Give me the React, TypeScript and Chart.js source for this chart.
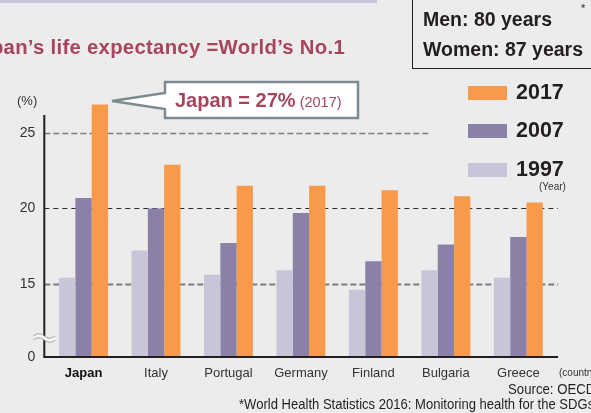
import React, { useEffect, useRef } from 'react';
import { Chart, registerables } from 'chart.js';

Chart.register(...registerables);

// ---- data ----
const categories = ['Japan', 'Italy', 'Portugal', 'Germany', 'Finland', 'Bulgaria', 'Greece'];
const years = ['1997', '2007', '2017'];
const values1997 = [15.4, 17.2, 15.6, 15.9, 14.6, 15.9, 15.4];
const values2007 = [20.7, 20.0, 17.7, 19.7, 16.5, 17.6, 18.1];
const values2017 = [26.9, 22.9, 21.5, 21.5, 21.2, 20.8, 20.4];
const yTickValues = [15, 20, 25];
// broken axis: the bottom of the axis is labelled "0"
const Y_MIN = 10.14;
const Y_MAX = 26.2;

// ---- style ----
const C1997 = '#c9c5d8';
const C2007 = '#8b80a8';
const C2017 = '#f99a4a';
const BG = '#ebeceb';
const ROSE = '#a6455c';
const INK = '#231f20';
const SANS = "'Liberation Sans', Arial, sans-serif";

const decorPlugin = {
  id: 'decor',
  beforeDatasetsDraw(chart: any) {
    const { ctx, chartArea: a, scales } = chart;
    const y = scales.y;
    const styles: Record<number, any> = {
      25: { color: '#7b7b7b', dash: [6, 3], width: 1.5, right: 429 },
      20: { color: '#2b2b2b', dash: [5, 4], width: 1, right: a.right + 3.5 },
      15: { color: '#7b7b7b', dash: [6, 3], width: 2, right: a.right + 3.5 },
    };
    ctx.save();
    for (const v of yTickValues) {
      const s = styles[v];
      const py = Math.round(y.getPixelForValue(v)) + 0.5;
      ctx.beginPath();
      ctx.setLineDash(s.dash);
      ctx.lineWidth = s.width;
      ctx.strokeStyle = s.color;
      ctx.moveTo(a.left - 3, py);
      ctx.lineTo(s.right, py);
      ctx.stroke();
    }
    ctx.restore();
  },
  afterDatasetsDraw(chart: any) {
    const { ctx, chartArea: a } = chart;
    const ax = a.left - 3;
    ctx.save();
    ctx.setLineDash([]);
    ctx.strokeStyle = INK;
    ctx.lineWidth = 2;
    ctx.beginPath();
    ctx.moveTo(ax, a.top);
    ctx.lineTo(ax, a.bottom + 1);
    ctx.moveTo(ax - 1, a.bottom);
    ctx.lineTo(a.right + 3.5, a.bottom);
    ctx.stroke();

    // axis break mark
    const bx0 = ax - 11, bx1 = ax + 11;
    const by = a.bottom - 21;
    const wave = (off: number, rev: boolean) => {
      const pts: [number, number][] = [];
      for (let i = 0; i <= 24; i++) {
        const t = i / 24;
        pts.push([bx0 + t * (bx1 - bx0), by + off - 2.2 * Math.sin(t * 2 * Math.PI)]);
      }
      return rev ? pts.reverse() : pts;
    };
    const top = wave(0, false);
    const bot = wave(4, true);
    ctx.beginPath();
    top.forEach(([x, yy], i) => (i ? ctx.lineTo(x, yy) : ctx.moveTo(x, yy)));
    bot.forEach(([x, yy]) => ctx.lineTo(x, yy));
    ctx.closePath();
    ctx.fillStyle = '#f7f7f7';
    ctx.fill();
    ctx.strokeStyle = '#9a9a9a';
    ctx.lineWidth = 1;
    ctx.beginPath();
    top.forEach(([x, yy], i) => (i ? ctx.lineTo(x, yy) : ctx.moveTo(x, yy)));
    ctx.stroke();
    ctx.beginPath();
    bot.forEach(([x, yy], i) => (i ? ctx.lineTo(x, yy) : ctx.moveTo(x, yy)));
    ctx.stroke();
    ctx.restore();
  },
};

function T(props: any) {
  const { x, right, base, size, weight = 'normal', color = INK, sx, ls, children } = props;
  const style: any = {
    position: 'absolute',
    top: base - size * 0.85,
    fontSize: size,
    lineHeight: `${size}px`,
    fontWeight: weight,
    color,
    fontFamily: SANS,
    whiteSpace: 'nowrap',
  };
  if (ls) style.letterSpacing = `${ls}px`;
  if (right !== undefined) style.right = right;
  else style.left = x;
  if (sx) {
    style.transform = `scaleX(${sx})`;
    style.transformOrigin = right !== undefined ? 'right top' : 'left top';
  }
  return <div style={style}>{children}</div>;
}

function Swatch({ x, y, color }: any) {
  return <div style={{ position: 'absolute', left: x, top: y, width: 39, height: 14, background: color }} />;
}

export default function App() {
  const ref = useRef<HTMLCanvasElement>(null);

  useEffect(() => {
    const chart = new Chart(ref.current as HTMLCanvasElement, {
      type: 'bar',
      data: {
        labels: categories,
        datasets: [
          { label: years[0], data: values1997, backgroundColor: C1997, base: Y_MIN, clip: false } as any,
          { label: years[1], data: values2007, backgroundColor: C2007, base: Y_MIN, clip: false } as any,
          { label: years[2], data: values2017, backgroundColor: C2017, base: Y_MIN, clip: false } as any,
        ],
      },
      options: {
        responsive: false,
        animation: false,
        layout: { padding: { top: 115, right: 36.4, left: 0, bottom: 0 } },
        plugins: { legend: { display: false }, tooltip: { enabled: false } },
        datasets: { bar: { barPercentage: 1, categoryPercentage: 0.675 } },
        scales: {
          x: {
            grid: { display: false, drawTicks: false },
            border: { display: false },
            ticks: {
              autoSkip: false,
              maxRotation: 0,
              padding: 9,
              color: (c: any) => (c.index === 0 ? '#111' : '#333'),
              font: (c: any) => ({ family: SANS, size: 13, weight: c.index === 0 ? 'bold' : 'normal' }),
            },
            afterFit: (s: any) => {
              s.height = 56;
            },
          },
          y: {
            min: Y_MIN,
            max: Y_MAX,
            grid: { display: false, drawTicks: false },
            border: { display: false },
            afterBuildTicks: (s: any) => {
              s.ticks = [Y_MIN, ...yTickValues].map((v) => ({ value: v }));
            },
            ticks: {
              padding: 12,
              color: '#333',
              font: { family: SANS, size: 14 },
              callback: (v: any) => (v === Y_MIN ? '0' : String(v)),
            },
            afterFit: (s: any) => {
              s.width = 47.3;
            },
          },
        },
      } as any,
      plugins: [decorPlugin],
    });
    return () => chart.destroy();
  }, []);

  return (
    <div
      style={{
        position: 'absolute',
        left: 0,
        top: 0,
        width: 591,
        height: 413,
        overflow: 'hidden',
        background: BG,
        fontFamily: SANS,
      }}
    >
      <div style={{ position: 'absolute', left: 0, top: 0, width: 377, height: 3, background: '#c9c5d8' }} />
      <canvas ref={ref} width={591} height={413} style={{ position: 'absolute', left: 0, top: 0 }} />

      {/* title */}
      <T right={246} base={54} size={20.3} weight="bold" color={ROSE} ls={0.3}>
        Japan’s life expectancy =World’s No.1
      </T>

      {/* top-right box */}
      <div
        style={{
          position: 'absolute',
          left: 412,
          top: -4,
          width: 200,
          height: 73,
          border: `1.5px solid ${INK}`,
          boxSizing: 'border-box',
        }}
      />
      <T x={423} base={27} size={19.5} weight="bold">Men: 80 years</T>
      <T x={423} base={57} size={19.5} weight="bold">Women: 87 years</T>
      <T x={581} base={12} size={11}>*</T>

      {/* callout */}
      <svg width={591} height={413} style={{ position: 'absolute', left: 0, top: 0 }}>
        <path
          d="M165,82 H358 V118 H165 V109 L112,101 L165,93 Z"
          fill="#ffffff"
          stroke="#7d8a90"
          strokeWidth={2.5}
          strokeLinejoin="miter"
        />
      </svg>
      <div
        style={{
          position: 'absolute',
          left: 175,
          top: 107 - 20 * 0.85,
          lineHeight: '20px',
          whiteSpace: 'nowrap',
          color: ROSE,
          fontFamily: SANS,
        }}
      >
        <span style={{ fontSize: 20, fontWeight: 'bold' }}>Japan = 27%</span>
        <span style={{ fontSize: 14.5 }}> (2017)</span>
      </div>

      {/* legend */}
      <Swatch x={468} y={86} color={C2017} />
      <Swatch x={468} y={124} color={C2007} />
      <Swatch x={468} y={163} color={C1997} />
      <T x={516} base={100} size={21.5} weight="bold">{years[2]}</T>
      <T x={516} base={138} size={21.5} weight="bold">{years[1]}</T>
      <T x={516} base={177} size={21.5} weight="bold">{years[0]}</T>
      <T x={539} base={190} size={10} color="#333">(Year)</T>

      {/* axis annotations */}
      <T x={17} base={105} size={13} color="#333">(%)</T>
      <T x={559} base={376} size={10} color="#333">(country)</T>
      <T x={508} base={394} size={15} sx={0.88}>Source: OECD</T>
      <T x={239} base={409} size={15} sx={0.87}>
        *World Health Statistics 2016: Monitoring health for the SDGs
      </T>
    </div>
  );
}
